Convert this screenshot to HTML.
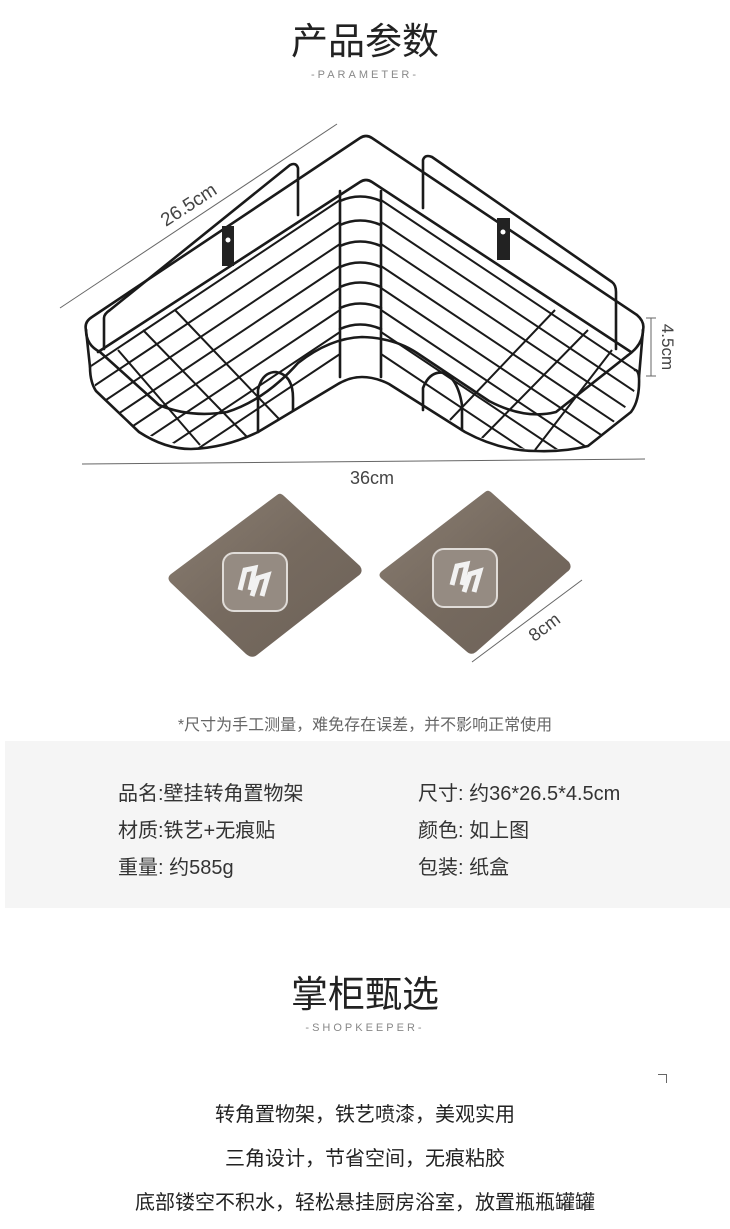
<!DOCTYPE html>
<html><head><meta charset="utf-8"><style>
body{margin:0;width:730px;height:1229px;background:#fff;position:relative;overflow:hidden;font-family:"Liberation Sans","Noto Sans CJK SC",sans-serif;color:#333}
.a{position:absolute;white-space:nowrap}
.c{left:0;width:730px;text-align:center}
</style></head><body>
<div class="a c" style="top:11px;font-size:37px;color:#222">产品参数</div>
<div class="a c" style="top:69px;font-size:11px;letter-spacing:3px;color:#888">-PARAMETER-</div>
<svg class="a" style="left:0;top:0" width="730" height="700">
<defs>
<clipPath id="cl"><path d="M84 329 L366 180 L643 325 L639 377 Q631 412 588 446 L536 451 Q500 445 465 432 L389 384 L362 377 L338 384 L258 432 Q220 450 191 449 L139 432 L96 391 Z"/></clipPath>
<linearGradient id="g" x1="0" y1="0" x2="1" y2="1"><stop offset="0" stop-color="#8a7e72"/><stop offset="0.5" stop-color="#766a5f"/><stop offset="1" stop-color="#6d6258"/></linearGradient>
</defs>
<g stroke="#666" stroke-width="1" fill="none">
<line x1="60" y1="308" x2="337" y2="124"/>
<line x1="82" y1="464" x2="645" y2="459"/>
<line x1="651" y1="318" x2="651" y2="376"/><line x1="646" y1="318" x2="656" y2="318"/><line x1="646" y1="376" x2="656" y2="376"/>
<line x1="472" y1="662" x2="582" y2="580"/>
</g>
<text x="192" y="210" font-size="19" fill="#444" transform="rotate(-33 192 210)" text-anchor="middle" font-family="Liberation Sans">26.5cm</text>
<text x="372" y="484" font-size="18" fill="#444" text-anchor="middle" font-family="Liberation Sans">36cm</text>
<text x="662" y="347" font-size="17" fill="#444" transform="rotate(90 662 347)" text-anchor="middle" font-family="Liberation Sans">4.5cm</text>
<text x="548" y="632" font-size="18" fill="#444" transform="rotate(-37 548 632)" text-anchor="middle" font-family="Liberation Sans">8cm</text>
<g stroke="#1a1a1a" stroke-width="2" fill="none" clip-path="url(#cl)">
<path d="M340 200 L40 400 M340 222 L40 422 M340 244 L40 444 M340 266 L40 466 M340 288 L40 488 M340 310 L40 510 M340 332 L40 532 M340 354 L40 554"/>
<path d="M381 200 L700 413 M381 222 L700 435 M381 244 L700 457 M381 266 L700 479 M381 288 L700 501 M381 310 L700 523 M381 332 L700 545 M381 354 L700 567"/>
<path d="M143 330 L250 440 M175 310 L280 420 M118 350 L200 445"/>
<path d="M588 330 L480 440 M555 310 L450 420 M612 350 L535 450"/>
</g>
<g stroke="#1a1a1a" stroke-width="2.6" fill="none" stroke-linejoin="round" stroke-linecap="round">
<path d="M86 330 Q84 322 92 317 L360 138 Q366 134 372 138 L637 315 Q645 322 643 330"/>
<path d="M98 352 L360 182 Q366 178 372 182 L631 352"/>
<path d="M86 330 Q86 345 100 352 L159 405 Q190 418 227 412 Q265 400 298 363 Q330 338 362 337 Q395 338 417 353 L489 401 Q525 420 556 412 L627 356 Q643 345 643 330"/>
<path d="M90 367 Q90 382 96 391 L139 432 Q165 449 191 449 Q225 448 258 432 L338 384 Q350 377 362 377 Q375 377 389 384 L465 432 Q500 451 536 451 Q565 452 588 446 L631 412 Q640 400 639 377 Q638 370 635 370"/>
<path d="M86 330 L90 367 M643 330 L639 377"/>
<path d="M104 349 L104 318 Q104 314 110 310 L290 165 Q296 162 298 168 L298 215"/>
<path d="M423 208 L423 160 Q425 154 432 157 L612 282 Q616 285 616 292 L616 349"/>
<path d="M340 191 L340 377 M381 191 L381 377"/>
<path d="M340 201 Q360 192 381 201 M340 225 Q360 216 381 225 M340 246 Q360 237 381 246 M340 267 Q360 258 381 267 M340 287 Q360 278 381 287 M340 308 Q360 299 381 308 M340 329 Q360 320 381 329"/>
<path d="M258 432 L258 390 Q262 372 276 372 Q293 375 293 398 L293 410"/>
<path d="M423 410 L423 388 Q430 370 445 373 Q458 380 462 405 L462 430"/>
</g>
<rect x="222" y="226" width="12" height="40" fill="#222"/><rect x="497" y="218" width="13" height="42" fill="#222"/>
<circle cx="228" cy="240" r="2.5" fill="#fff"/><circle cx="503" cy="232" r="2.5" fill="#fff"/>
<path d="M277 495 Q280 492 284 496 L360 566 Q364 572 358 576 L257 655 Q252 659 246 654 L171 583 Q166 578 171 574 Z" fill="url(#g)"/>
<path d="M485 492 Q488 489 492 493 L569 562 Q573 568 567 572 L476 652 Q471 656 466 651 L382 579 Q377 575 382 571 Z" fill="url(#g)"/>
<rect x="223" y="553" width="64" height="58" rx="11" fill="#958b82" stroke="#e0dcd8" stroke-width="2"/>
<rect x="433" y="549" width="64" height="58" rx="11" fill="#958b82" stroke="#e0dcd8" stroke-width="2"/>
<path d="M240 590 L245 570 L255 568 L250 590 M252 596 L258 578 L268 575 L262 596" stroke="#f2f2f2" stroke-width="5" fill="none"/>
<path d="M452 585 L457 566 L467 564 L462 585 M464 592 L470 574 L480 571 L474 592" stroke="#f2f2f2" stroke-width="5" fill="none"/>
</svg>
<div class="a c" style="top:711px;font-size:16px;color:#666">*尺寸为手工测量，难免存在误差，并不影响正常使用</div>
<div class="a" style="left:5px;top:741px;width:725px;height:167px;background:#f5f5f5"></div>
<div class="a" style="left:118px;top:776px;font-size:20px;line-height:37px;color:#333">品名:壁挂转角置物架<br>材质:铁艺+无痕贴<br>重量: 约585g</div>
<div class="a" style="left:418px;top:776px;font-size:20px;line-height:37px;color:#333">尺寸: 约36*26.5*4.5cm<br>颜色: 如上图<br>包装: 纸盒</div>
<div class="a c" style="top:964px;font-size:37px;color:#222">掌柜甄选</div>
<div class="a c" style="top:1022px;font-size:11px;letter-spacing:3px;color:#888">-SHOPKEEPER-</div>
<div class="a" style="left:658px;top:1074px;width:8px;height:8px;border-top:1px solid #666;border-right:1px solid #666"></div>
<div class="a c" style="top:1093px;font-size:20px;line-height:44px;color:#222">转角置物架，铁艺喷漆，美观实用<br>三角设计，节省空间，无痕粘胶<br>底部镂空不积水，轻松悬挂厨房浴室，放置瓶瓶罐罐</div>
</body></html>
